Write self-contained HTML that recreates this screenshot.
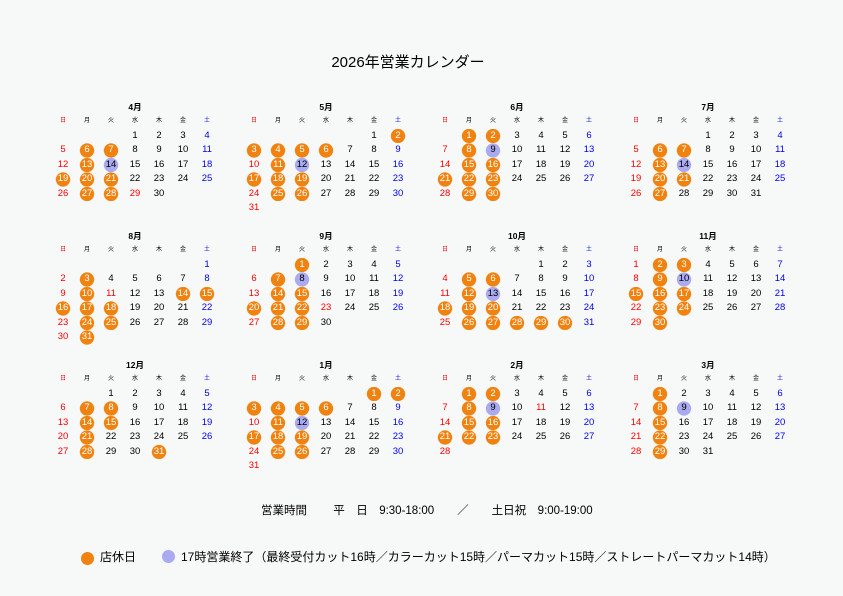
<!DOCTYPE html>
<html><head><meta charset="utf-8"><style>
*{margin:0;padding:0}
body{width:843px;height:596px;background:#f7f8f8;position:relative;overflow:hidden;font-family:"Liberation Sans","Noto Sans CJK JP",sans-serif;color:#000}
.ttl{position:absolute;top:54px;left:0;width:816px;text-align:center;font-size:15px;line-height:18px}
.m{position:absolute;width:168px}
.m h3{font-size:8.5px;font-weight:bold;text-align:center;height:16px;line-height:17px}
.hd,.g{display:grid;grid-template-columns:repeat(7,24px)}
.hd i{font-style:normal;font-size:6px;text-align:center;height:13.5px;line-height:13.5px}
.hd i:first-child{color:#e00}.hd i:last-child{color:#00d}
.g i{font-style:normal;font-size:9.5px;text-align:center;height:14.6px;line-height:14.6px}
.g i:nth-child(7n+1){color:#f00}.g i:nth-child(7n){color:#00e}
.g i.h{color:#f00}
.g i.o{color:#fff!important;background:radial-gradient(circle 7.5px at 50% 50%,#f0820f 6.8px,rgba(240,130,15,0) 7.5px)}
.g i.p{color:#000!important;background:radial-gradient(circle 7.5px at 50% 50%,#aaaaf0 6.8px,rgba(170,170,240,0) 7.5px)}
.hours{position:absolute;top:503px;left:261px;font-size:11.5px;line-height:16px;white-space:pre}
.leg{position:absolute;top:549px;font-size:12px;line-height:16px;white-space:pre}
.dot{position:absolute;width:13px;height:13px;border-radius:50%}
</style></head><body>
<div class="ttl">2026年営業カレンダー</div>

<div class="m" style="left:51px;top:99px"><h3>4月</h3><div class="hd"><i>日</i><i>月</i><i>火</i><i>水</i><i>木</i><i>金</i><i>土</i></div><div class="g">
<i></i><i></i><i></i><i>1</i><i>2</i><i>3</i><i>4</i>
<i>5</i><i class="o">6</i><i class="o">7</i><i>8</i><i>9</i><i>10</i><i>11</i>
<i>12</i><i class="o">13</i><i class="p">14</i><i>15</i><i>16</i><i>17</i><i>18</i>
<i class="o">19</i><i class="o">20</i><i class="o">21</i><i>22</i><i>23</i><i>24</i><i>25</i>
<i>26</i><i class="o">27</i><i class="o">28</i><i class="h">29</i><i>30</i></div></div>

<div class="m" style="left:242px;top:99px"><h3>5月</h3><div class="hd"><i>日</i><i>月</i><i>火</i><i>水</i><i>木</i><i>金</i><i>土</i></div><div class="g">
<i></i><i></i><i></i><i></i><i></i><i>1</i><i class="o">2</i>
<i class="o">3</i><i class="o">4</i><i class="o">5</i><i class="o">6</i><i>7</i><i>8</i><i>9</i>
<i>10</i><i class="o">11</i><i class="p">12</i><i>13</i><i>14</i><i>15</i><i>16</i>
<i class="o">17</i><i class="o">18</i><i class="o">19</i><i>20</i><i>21</i><i>22</i><i>23</i>
<i>24</i><i class="o">25</i><i class="o">26</i><i>27</i><i>28</i><i>29</i><i>30</i>
<i>31</i></div></div>

<div class="m" style="left:433px;top:99px"><h3>6月</h3><div class="hd"><i>日</i><i>月</i><i>火</i><i>水</i><i>木</i><i>金</i><i>土</i></div><div class="g">
<i></i><i class="o">1</i><i class="o">2</i><i>3</i><i>4</i><i>5</i><i>6</i>
<i>7</i><i class="o">8</i><i class="p">9</i><i>10</i><i>11</i><i>12</i><i>13</i>
<i>14</i><i class="o">15</i><i class="o">16</i><i>17</i><i>18</i><i>19</i><i>20</i>
<i class="o">21</i><i class="o">22</i><i class="o">23</i><i>24</i><i>25</i><i>26</i><i>27</i>
<i>28</i><i class="o">29</i><i class="o">30</i></div></div>

<div class="m" style="left:624px;top:99px"><h3>7月</h3><div class="hd"><i>日</i><i>月</i><i>火</i><i>水</i><i>木</i><i>金</i><i>土</i></div><div class="g">
<i></i><i></i><i></i><i>1</i><i>2</i><i>3</i><i>4</i>
<i>5</i><i class="o">6</i><i class="o">7</i><i>8</i><i>9</i><i>10</i><i>11</i>
<i>12</i><i class="o">13</i><i class="p">14</i><i>15</i><i>16</i><i>17</i><i>18</i>
<i>19</i><i class="o">20</i><i class="o">21</i><i>22</i><i>23</i><i>24</i><i>25</i>
<i>26</i><i class="o">27</i><i>28</i><i>29</i><i>30</i><i>31</i></div></div>

<div class="m" style="left:51px;top:228px"><h3>8月</h3><div class="hd"><i>日</i><i>月</i><i>火</i><i>水</i><i>木</i><i>金</i><i>土</i></div><div class="g">
<i></i><i></i><i></i><i></i><i></i><i></i><i>1</i>
<i>2</i><i class="o">3</i><i>4</i><i>5</i><i>6</i><i>7</i><i>8</i>
<i>9</i><i class="o">10</i><i class="h">11</i><i>12</i><i>13</i><i class="o">14</i><i class="o">15</i>
<i class="o">16</i><i class="o">17</i><i class="o">18</i><i>19</i><i>20</i><i>21</i><i>22</i>
<i>23</i><i class="o">24</i><i class="o">25</i><i>26</i><i>27</i><i>28</i><i>29</i>
<i>30</i><i class="o">31</i></div></div>

<div class="m" style="left:242px;top:228px"><h3>9月</h3><div class="hd"><i>日</i><i>月</i><i>火</i><i>水</i><i>木</i><i>金</i><i>土</i></div><div class="g">
<i></i><i></i><i class="o">1</i><i>2</i><i>3</i><i>4</i><i>5</i>
<i>6</i><i class="o">7</i><i class="p">8</i><i>9</i><i>10</i><i>11</i><i>12</i>
<i>13</i><i class="o">14</i><i class="o">15</i><i>16</i><i>17</i><i>18</i><i>19</i>
<i class="o">20</i><i class="o">21</i><i class="o">22</i><i class="h">23</i><i>24</i><i>25</i><i>26</i>
<i>27</i><i class="o">28</i><i class="o">29</i><i>30</i></div></div>

<div class="m" style="left:433px;top:228px"><h3>10月</h3><div class="hd"><i>日</i><i>月</i><i>火</i><i>水</i><i>木</i><i>金</i><i>土</i></div><div class="g">
<i></i><i></i><i></i><i></i><i>1</i><i>2</i><i>3</i>
<i>4</i><i class="o">5</i><i class="o">6</i><i>7</i><i>8</i><i>9</i><i>10</i>
<i>11</i><i class="o">12</i><i class="p">13</i><i>14</i><i>15</i><i>16</i><i>17</i>
<i class="o">18</i><i class="o">19</i><i class="o">20</i><i>21</i><i>22</i><i>23</i><i>24</i>
<i>25</i><i class="o">26</i><i class="o">27</i><i class="o">28</i><i class="o">29</i><i class="o">30</i><i>31</i></div></div>

<div class="m" style="left:624px;top:228px"><h3>11月</h3><div class="hd"><i>日</i><i>月</i><i>火</i><i>水</i><i>木</i><i>金</i><i>土</i></div><div class="g">
<i>1</i><i class="o">2</i><i class="o">3</i><i>4</i><i>5</i><i>6</i><i>7</i>
<i>8</i><i class="o">9</i><i class="p">10</i><i>11</i><i>12</i><i>13</i><i>14</i>
<i class="o">15</i><i class="o">16</i><i class="o">17</i><i>18</i><i>19</i><i>20</i><i>21</i>
<i>22</i><i class="o">23</i><i class="o">24</i><i>25</i><i>26</i><i>27</i><i>28</i>
<i>29</i><i class="o">30</i></div></div>

<div class="m" style="left:51px;top:357px"><h3>12月</h3><div class="hd"><i>日</i><i>月</i><i>火</i><i>水</i><i>木</i><i>金</i><i>土</i></div><div class="g">
<i></i><i></i><i>1</i><i>2</i><i>3</i><i>4</i><i>5</i>
<i>6</i><i class="o">7</i><i class="o">8</i><i>9</i><i>10</i><i>11</i><i>12</i>
<i>13</i><i class="o">14</i><i class="o">15</i><i>16</i><i>17</i><i>18</i><i>19</i>
<i>20</i><i class="o">21</i><i>22</i><i>23</i><i>24</i><i>25</i><i>26</i>
<i>27</i><i class="o">28</i><i>29</i><i>30</i><i class="o">31</i></div></div>

<div class="m" style="left:242px;top:357px"><h3>1月</h3><div class="hd"><i>日</i><i>月</i><i>火</i><i>水</i><i>木</i><i>金</i><i>土</i></div><div class="g">
<i></i><i></i><i></i><i></i><i></i><i class="o">1</i><i class="o">2</i>
<i class="o">3</i><i class="o">4</i><i class="o">5</i><i class="o">6</i><i>7</i><i>8</i><i>9</i>
<i>10</i><i class="o">11</i><i class="p">12</i><i>13</i><i>14</i><i>15</i><i>16</i>
<i class="o">17</i><i class="o">18</i><i class="o">19</i><i>20</i><i>21</i><i>22</i><i>23</i>
<i>24</i><i class="o">25</i><i class="o">26</i><i>27</i><i>28</i><i>29</i><i>30</i>
<i>31</i></div></div>

<div class="m" style="left:433px;top:357px"><h3>2月</h3><div class="hd"><i>日</i><i>月</i><i>火</i><i>水</i><i>木</i><i>金</i><i>土</i></div><div class="g">
<i></i><i class="o">1</i><i class="o">2</i><i>3</i><i>4</i><i>5</i><i>6</i>
<i>7</i><i class="o">8</i><i class="p">9</i><i>10</i><i class="h">11</i><i>12</i><i>13</i>
<i>14</i><i class="o">15</i><i class="o">16</i><i>17</i><i>18</i><i>19</i><i>20</i>
<i class="o">21</i><i class="o">22</i><i class="o">23</i><i>24</i><i>25</i><i>26</i><i>27</i>
<i>28</i></div></div>

<div class="m" style="left:624px;top:357px"><h3>3月</h3><div class="hd"><i>日</i><i>月</i><i>火</i><i>水</i><i>木</i><i>金</i><i>土</i></div><div class="g">
<i></i><i class="o">1</i><i>2</i><i>3</i><i>4</i><i>5</i><i>6</i>
<i>7</i><i class="o">8</i><i class="p">9</i><i>10</i><i>11</i><i>12</i><i>13</i>
<i>14</i><i class="o">15</i><i>16</i><i>17</i><i>18</i><i>19</i><i>20</i>
<i>21</i><i class="o">22</i><i>23</i><i>24</i><i>25</i><i>26</i><i>27</i>
<i>28</i><i class="o">29</i><i>30</i><i>31</i></div></div>

<div class="hours">営業時間　　 平　日　9:30-18:00　　／　　土日祝　9:00-19:00</div>

<div class="dot" style="left:81px;top:552px;background:#f0820f"></div>
<div class="leg" style="left:100px">店休日</div>
<div class="dot" style="left:162px;top:550px;background:#aaaaf0"></div>
<div class="leg" style="left:181px">17時営業終了（最終受付カット16時／カラーカット15時／パーマカット15時／ストレートパーマカット14時）</div>
</body></html>
